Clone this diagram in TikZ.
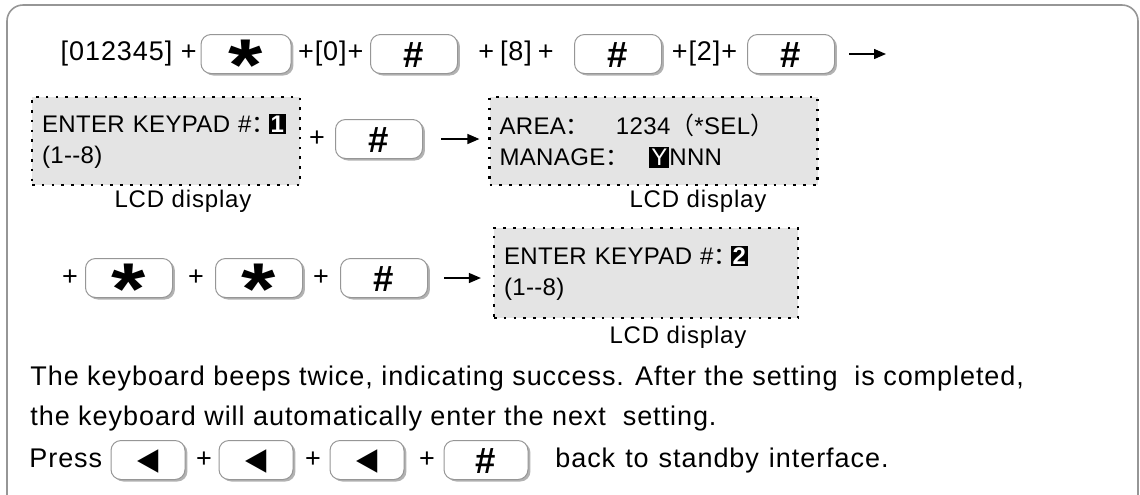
\documentclass[tikz,border=0pt]{standalone}
\usepackage{fontspec}
\setmainfont{Liberation Sans}[LetterSpace=3.5]
\newfontfamily\lcdfont{Liberation Sans}[LetterSpace=1.5]
\newfontfamily\symfont{DejaVu Sans}
\newfontfamily\cjk{Noto Sans CJK SC}
\usetikzlibrary{arrows.meta, calc, positioning, shadows}

\definecolor{lcdgray}{RGB}{228,228,228}
\definecolor{keyedge}{RGB}{150,150,150}

% key symbols
\newcommand{\starsym}{\raisebox{-18.3pt}[0pt][0pt]{\scalebox{1.2}[1]{\fontsize{36.7}{36.7}\selectfont\bfseries *}}}
\newcommand{\hashsym}{\raisebox{-6.5pt}[0pt][0pt]{\fontsize{18.3}{18.3}\selectfont\bfseries \#}}
\newcommand{\backsym}{\raisebox{-4.8pt}[0pt][0pt]{\scalebox{0.9}[1]{\symfont\fontsize{15.4}{15.4}\selectfont ◀}}}
% LCD helpers
\newcommand{\fcol}{{\cjk ：}}
\newcommand{\hl}[1]{{\setlength{\fboxsep}{1pt}\colorbox{black}{\textcolor{white}{#1}}}}

\begin{document}
\begin{tikzpicture}[
    x=0.5pt, y=-0.5pt,
    txt/.style={inner sep=0pt, font=\fontsize{13.5}{16}\selectfont},
    key/.style={draw=keyedge, fill=white, rounded corners=5pt, line width=0.5pt,
        minimum width=#1, minimum height=19.5pt, inner sep=0pt,
        general shadow={fill=gray!60, shadow xshift=1.2pt, shadow yshift=-1pt}},
    key/.default=43.5pt,
    lcd/.style={fill=lcdgray, draw, line width=1.1pt, dash pattern=on 1.3pt off 3.6pt,
        text width=#1, minimum height=44pt, align=left, inner xsep=5pt,
        font=\lcdfont\fontsize{12}{15.5}\selectfont},
    lcdcap/.style={font=\fontsize{12}{14.5}\selectfont, inner sep=0pt},
    arrow/.style={-{Triangle[length=6pt, width=5pt]}, line width=0.7pt}
]
    \useasboundingbox (0,0) rectangle (1140,494);
    % frame
    \draw[keyedge, line width=0.8pt, rounded corners=8pt] (7,520) -- (7,5) -- (1138,5) -- (1138,520);

    % first line
    \node[key=45pt] (k11) at (246,54) {\starsym};
    \node[key] (k12) at (414,54) {\hashsym};
    \node[key] (k13) at (618,54) {\hashsym};
    \node[key] (k14) at (791,54) {\hashsym};
    \node[txt, anchor=east] (t0) at (197,54) {[012345] +};
    \node[txt] (t1) at ($(k11.east)!0.5!(k12.west)$) {+[0]+};
    \node[txt] (t2) at ($(k12.east)!0.5!(k13.west)$) {+\hspace{3pt}[8]\hspace{3pt}+};
    \node[txt] (t3) at ($(k13.east)!0.5!(k14.west)$) {+[2]+};
    \coordinate (next) at (886,54);
    \draw[arrow, shorten <=7pt] (k14.east) -- (next);

    % LCD: keypad 1
    \node[lcd=124pt] (lcd1) at (166,141) {\mbox{ENTER KEYPAD \#\fcol\kern-3.5pt\hl{\bfseries 1}}\\(1{-}{-}8)};
    \node[lcdcap] (cap1) at (183,201) {LCD display};
    \node[txt] (p21) at (317,139) {+};
    \node[key] (k21) at (379,139) {\hashsym};
    \node[lcd=154pt] (lcd2) at (653.5,141) {\mbox{AREA\fcol\hspace{13pt}1234{\cjk （}*SEL{\cjk ）}}\\\mbox{MANAGE\fcol\hspace{10pt}\hl{Y}NNN}};
    \node[lcdcap] (cap2) at (698,201) {LCD display};
    \draw[arrow, shorten <=9pt, shorten >=4.5pt] (k21.east) -- (k21.east -| lcd2.west);

    % LCD: keypad 2
    \node[txt] (p31) at (70,278) {+};
    \node[key] (k31) at (129,278) {\starsym};
    \node[txt] (p32) at (196,278) {+};
    \node[key] (k32) at (259,278) {\starsym};
    \node[txt] (p33) at (321,278) {+};
    \node[key] (k33) at (384,278) {\hashsym};
    \node[lcd=142pt, minimum height=45pt] (lcd3) at (646,273) {\mbox{ENTER KEYPAD \#\fcol\kern-3.5pt\hl{\bfseries 2}}\\(1{-}{-}8)};
    \node[lcdcap] (cap3) at (678,337) {LCD display};
    \draw[arrow, shorten <=8pt, shorten >=6pt] (k33.east) -- (k33.east -| lcd3.west);

    % notes
    \node[txt, anchor=base west] (n1) at (30,385) {The keyboard beeps twice, indicating success. After the setting\ \ is completed,};
    \node[txt, anchor=base west] (n2) at (30,425) {the keyboard will automatically enter the next\ \ setting.};
    \node[txt, anchor=base west] (press) at (29,467) {Press};
    \node[key=37pt] (b1) at (148,460) {\backsym};
    \node[txt] (p41) at (204,460) {+};
    \node[key=37pt] (b2) at (256,460) {\backsym};
    \node[txt] (p42) at (313,460) {+};
    \node[key=37pt] (b3) at (367,460) {\backsym};
    \node[txt] (p43) at (427,460) {+};
    \node[key=42pt] (b4) at (486,460) {\hashsym};
    \node[txt, anchor=base west] (n3) at (555,467) {back\hspace{5pt}to\hspace{5pt}standby\hspace{5pt}interface.};
\end{tikzpicture}
\end{document}
